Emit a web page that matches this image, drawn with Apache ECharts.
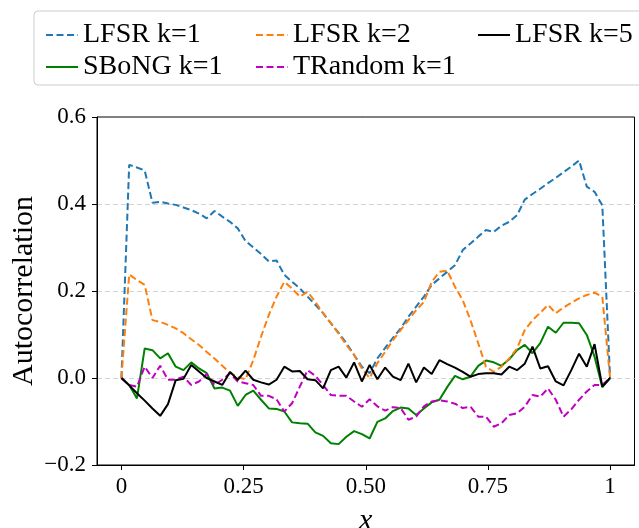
<!DOCTYPE html>
<html>
<head>
<meta charset="utf-8">
<script src="https://cdn.jsdelivr.net/npm/echarts@6/dist/echarts.min.js"></script>
<style>
  html, body { margin: 0; padding: 0; background: #fff; }
  #main { width: 639px; height: 528px; }
</style>
</head>
<body>
<div id="main"></div>
<script>
// 64 lags, evenly spread over [0, 1]
const xs = Array.from({ length: 64 }, (_, i) => i / 63);

const lfsr1 = [0, 0.490, 0.484, 0.477, 0.403, 0.405, 0.401, 0.398, 0.392, 0.386, 0.378, 0.367, 0.384, 0.371, 0.359, 0.344,
  0.315, 0.300, 0.285, 0.268, 0.270, 0.237, 0.221, 0.206, 0.187, 0.168, 0.149, 0.126, 0.104, 0.080, 0.053, 0.026,
  0.011, 0.045, 0.069, 0.092, 0.114, 0.141, 0.164, 0.187, 0.214, 0.229, 0.244, 0.259, 0.294, 0.309, 0.325, 0.340,
  0.336, 0.350, 0.359, 0.374, 0.410, 0.423, 0.435, 0.448, 0.460, 0.473, 0.486, 0.500, 0.440, 0.428, 0.397, 0];
const lfsr2 = [0, 0.238, 0.225, 0.214, 0.133, 0.129, 0.122, 0.114, 0.103, 0.089, 0.076, 0.060, 0.045, 0.028, 0.012, 0.002,
  -0.003, 0.041, 0.095, 0.145, 0.187, 0.221, 0.206, 0.187, 0.198, 0.175, 0.149, 0.126, 0.102, 0.076, 0.053, 0.022,
  0.000, 0.034, 0.060, 0.087, 0.110, 0.133, 0.156, 0.175, 0.221, 0.244, 0.247, 0.210, 0.179, 0.133, 0.080, 0.026,
  0.014, 0.026, 0.045, 0.068, 0.110, 0.133, 0.150, 0.168, 0.149, 0.162, 0.173, 0.183, 0.191, 0.196, 0.187, 0];
const lfsr5 = [0, -0.017, -0.035, -0.052, -0.070, -0.087, -0.060, -0.005, -0.002, 0.030, 0.015, 0, -0.008, -0.016, 0.014, -0.004,
  0.017, -0.004, -0.010, -0.015, -0.004, 0.026, 0.015, 0.016, -0.003, -0.005, -0.024, 0.018, 0.026, 0.001, 0.036, -0.008,
  0.030, -0.003, 0.024, 0.003, -0.005, 0.033, -0.010, 0.024, 0.009, 0.041, 0.032, 0.024, 0.014, 0.003, 0.009, 0.011,
  0.011, 0.008, 0.026, 0.018, 0.033, 0.072, 0.022, 0.027, -0.008, -0.017, 0.018, 0.056, 0.026, 0.078, -0.020, 0];
const sbong1 = [0, -0.016, -0.047, 0.068, 0.064, 0.045, 0.057, 0.026, 0.018, 0.036, 0.022, 0.011, -0.024, -0.022, -0.029, -0.064,
  -0.039, -0.029, -0.050, -0.070, -0.071, -0.077, -0.102, -0.104, -0.105, -0.125, -0.133, -0.150, -0.152, -0.135, -0.122, -0.129,
  -0.139, -0.101, -0.093, -0.076, -0.068, -0.070, -0.085, -0.070, -0.056, -0.050, -0.021, 0.005, -0.003, 0.003, 0.028, 0.040,
  0.036, 0.028, 0.043, 0.064, 0.076, 0.057, 0.080, 0.118, 0.104, 0.127, 0.127, 0.126, 0.099, 0.049, -0.021, 0];
const trandom1 = [0, -0.016, -0.020, 0.026, 0, 0.028, -0.004, -0.004, 0.003, -0.016, -0.008, 0.009, -0.016, -0.004, 0.011, -0.008,
  -0.012, -0.016, -0.041, -0.041, -0.049, -0.077, -0.058, -0.020, 0.018, 0.005, -0.016, -0.039, -0.041, -0.041, -0.054, -0.066,
  -0.049, -0.065, -0.075, -0.067, -0.069, -0.096, -0.089, -0.065, -0.054, -0.051, -0.054, -0.059, -0.069, -0.066, -0.089, -0.089,
  -0.112, -0.104, -0.085, -0.081, -0.066, -0.039, -0.043, -0.024, -0.050, -0.089, -0.072, -0.050, -0.031, -0.016, -0.016, 0];

const xTicks = [0, 0.25, 0.5, 0.75, 1];
const xTickLabels = { 0: '0', 0.25: '0.25', 0.5: '0.50', 0.75: '0.75', 1: '1' };

const serif = 'Liberation Serif';

function pairs(ys) {
  return ys.map((y, i) => [xs[i], y]);
}

function line(name, ys, color, dashed) {
  return {
    name: name,
    type: 'line',
    data: pairs(ys),
    symbol: 'none',
    animation: false,
    lineStyle: { color: color, width: 2, type: dashed ? [7, 3.5] : 'solid' },
    itemStyle: { color: color }
  };
}

// one legend per column, like matplotlib's ncol=3 layout
function legendCol(left, names) {
  return {
    orient: 'vertical',
    left: left,
    top: 16,
    itemWidth: 32,
    itemHeight: 14,
    itemGap: 4,
    itemStyle: { opacity: 0 },
    data: names,
    textStyle: { fontFamily: serif, fontSize: 28, color: '#000' }
  };
}

const chart = echarts.init(document.getElementById('main'));
chart.setOption({
  backgroundColor: '#fff',
  animation: false,
  graphic: [{
    type: 'rect',
    shape: { x: 34, y: 11, width: 640, height: 74, r: 4 },
    style: { fill: '#fff', stroke: '#cccccc', lineWidth: 1 },
    z: -1
  }],
  legend: [
    legendCol(40, ['LFSR k=1', 'SBoNG k=1']),
    legendCol(250, ['LFSR k=2', 'TRandom k=1']),
    legendCol(472, ['LFSR k=5'])
  ],
  grid: {
    left: 97, right: 4.5, top: 117, bottom: 63,
    containLabel: false,
    outerBoundsMode: 'none',
    show: true, borderColor: '#000', borderWidth: 1, backgroundColor: 'transparent'
  },
  xAxis: {
    type: 'value',
    min: -0.05,
    max: 1.05,
    name: 'x',
    nameLocation: 'middle',
    nameGap: 41,
    nameMoveOverlap: false,
    nameTextStyle: { fontFamily: serif, fontStyle: 'italic', fontSize: 30, color: '#000' },
    axisLine: { show: true, onZero: false, lineStyle: { color: '#000' } },
    axisTick: { show: true, length: 5, lineStyle: { color: '#000' }, customValues: xTicks },
    axisLabel: {
      customValues: xTicks,
      margin: 10,
      fontFamily: serif, fontSize: 23, color: '#000',
      formatter: v => xTickLabels[v]
    },
    splitLine: { show: false }
  },
  yAxis: {
    type: 'value',
    min: -0.2,
    max: 0.6,
    interval: 0.2,
    name: 'Autocorrelation',
    nameLocation: 'middle',
    nameGap: 58,
    nameMoveOverlap: false,
    nameTextStyle: { fontFamily: serif, fontSize: 30, color: '#000' },
    axisLine: { show: true, onZero: false, lineStyle: { color: '#000' } },
    axisTick: { show: true, length: 5, lineStyle: { color: '#000' } },
    axisLabel: {
      margin: 11,
      fontFamily: serif, fontSize: 23, color: '#000',
      formatter: v => (v < 0 ? '\u2212' : '') + Math.abs(v).toFixed(1)
    },
    splitLine: {
      show: true, showMinLine: false, showMaxLine: false,
      lineStyle: { color: '#d3d3d3', type: [5, 3], width: 1 }
    }
  },
  series: [
    line('LFSR k=1', lfsr1, '#1f77b4', true),
    line('SBoNG k=1', sbong1, '#008000', false),
    line('LFSR k=2', lfsr2, '#ff7f0e', true),
    line('TRandom k=1', trandom1, '#bf00bf', true),
    line('LFSR k=5', lfsr5, '#000000', false)
  ]
});
</script>
</body>
</html>
